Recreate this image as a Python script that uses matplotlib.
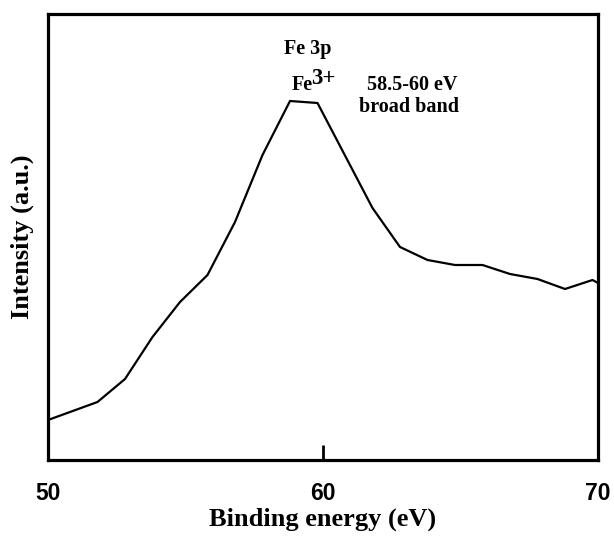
"""
Fe 3p XPS spectrum
"""

import numpy as np
import matplotlib
matplotlib.use('Agg')
import matplotlib.pyplot as plt

# Binding energy (eV) and intensity (a.u.)
energy = [50.0, 51.8, 52.8, 53.8, 54.8, 55.8, 56.8, 57.8, 58.8, 59.8,
          61.8, 62.8, 63.8, 64.8, 65.8, 66.8, 67.8, 68.8, 69.8, 70.0]
intensity = [40, 58, 81, 123, 158, 185, 238, 305, 359, 357,
             252, 213, 200, 195, 195, 186, 181, 171, 180, 177]

xticks = [50, 60, 70]

serif = 'Liberation Serif'
sans = 'Liberation Sans'

fig = plt.figure(figsize=(6.14, 5.36), dpi=100)
ax = fig.add_axes([48/614, 1 - 460/536, 550/614, 446/536])

ax.plot(energy, intensity, color='black', lw=1.6)

ax.set_xlim(50, 70)
ax.set_ylim(0, 446)
ax.set_xticks(xticks)
ax.set_xticklabels([str(t) for t in xticks], fontfamily=sans,
                   fontweight='bold', fontsize=16.5)
ax.set_yticks([])
ax.tick_params(axis='x', direction='in', length=11, width=2, pad=16)

for s in ax.spines.values():
    s.set_linewidth(2.3)

ax.set_xlabel('Binding energy (eV)', fontfamily=serif, fontweight='bold',
              fontsize=19, labelpad=2)
ax.set_ylabel('Intensity (a.u.)', fontfamily=serif, fontweight='bold',
              fontsize=19, labelpad=10)

# peak annotations
tk = dict(fontfamily=serif, fontweight='bold', color='black')
ax.text(58.6, 411, 'Fe 3p', ha='left', va='center', fontsize=14.5, **tk)
ax.text(58.85, 375, 'Fe', ha='left', va='center', fontsize=14.5, **tk)
ax.text(59.58, 382, '3+', ha='left', va='center', fontsize=16.5, **tk)
ax.text(61.6, 375, '58.5-60 eV', ha='left', va='center', fontsize=14.5, **tk)
ax.text(61.3, 353, 'broad band', ha='left', va='center', fontsize=14.5, **tk)

plt.savefig('out.png', dpi=100)
